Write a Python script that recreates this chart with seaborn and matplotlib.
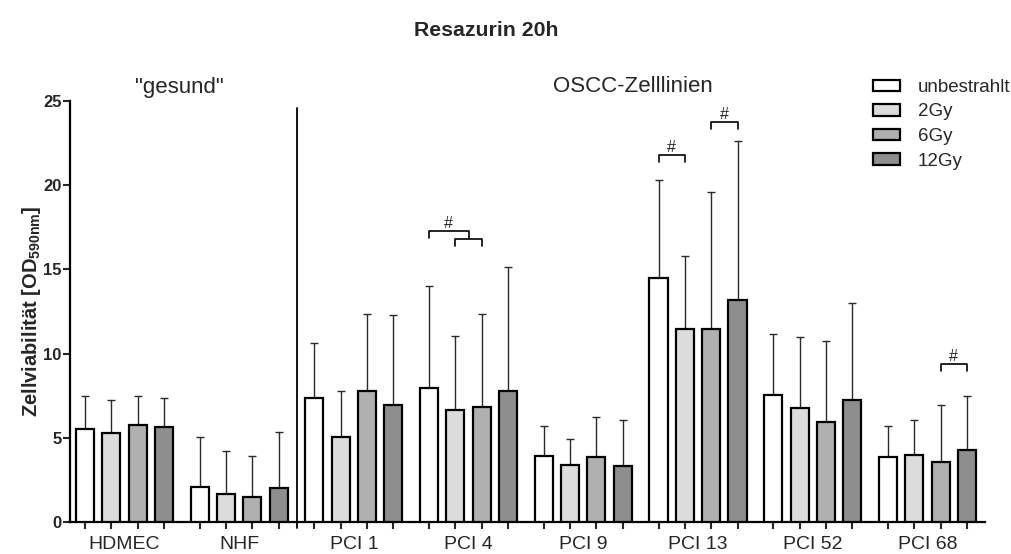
import numpy as np
import pandas as pd
import matplotlib
matplotlib.use("Agg")
import matplotlib.pyplot as plt
import seaborn as sns
from matplotlib.patches import Patch

groups = ["HDMEC", "NHF", "PCI 1", "PCI 4", "PCI 9", "PCI 13", "PCI 52", "PCI 68"]
doses = ["unbestrahlt", "2Gy", "6Gy", "12Gy"]
means_unbestrahlt = [5.52, 2.08, 7.34, 7.98, 3.90, 14.49, 7.52, 3.88]
means_2gy = [5.30, 1.66, 5.07, 6.67, 3.40, 11.48, 6.79, 3.96]
means_6gy = [5.76, 1.48, 7.80, 6.83, 3.84, 11.44, 5.96, 3.56]
means_12gy = [5.64, 2.04, 6.97, 7.80, 3.33, 13.18, 7.26, 4.26]
top_unbestrahlt = [7.48, 5.07, 10.65, 14.01, 5.70, 20.31, 11.18, 5.72]
top_2gy = [7.24, 4.22, 7.80, 11.03, 4.91, 15.80, 10.96, 6.04]
top_6gy = [7.50, 3.94, 12.33, 12.37, 6.25, 19.61, 10.77, 6.95]
top_12gy = [7.38, 5.33, 12.31, 15.14, 6.04, 22.62, 13.02, 7.46]
colors = ["#ffffff", "#dcdcdc", "#b0b0b0", "#8e8e8e"]
yticks = [0, 5, 10, 15, 20, 25]

means = [means_unbestrahlt, means_2gy, means_6gy, means_12gy]
tops = [top_unbestrahlt, top_2gy, top_6gy, top_12gy]

rows = []
for di, d in enumerate(doses):
    for gi, g in enumerate(groups):
        rows.append({"group": g, "dose": d, "val": means[di][gi], "top": tops[di][gi]})
df = pd.DataFrame(rows)

sns.set_style("white")
plt.rcParams["font.family"] = ["Liberation Sans", "DejaVu Sans"]
plt.rcParams["mathtext.fontset"] = "custom"
plt.rcParams["mathtext.bf"] = "Liberation Sans:bold"
plt.rcParams["mathtext.rm"] = "Liberation Sans"

fig = plt.figure(figsize=(10.12, 5.54), dpi=100)
ax = fig.add_axes([70/1012, 32/554, 915/1012, 421/554])

W = 0.9185
sns.barplot(data=df, x="group", y="val", hue="dose", order=groups, hue_order=doses,
            palette=colors, width=W, gap=0.315, edgecolor="black", linewidth=1.6,
            errorbar=None, legend=False, ax=ax, zorder=3)

step = W / 4
def xpos(gi, di):
    return gi + (di - 1.5) * step

for di in range(4):
    xs = [xpos(gi, di) for gi in range(len(groups))]
    m = np.array(means[di]); t = np.array(tops[di])
    ax.errorbar(xs, m, yerr=[np.zeros_like(m), t - m], fmt="none", ecolor="#2a2a2a",
                elinewidth=1.0, capsize=3, capthick=1.0, zorder=2)

ax.set_xlim(-0.475, 7.502)
ax.set_ylim(0, 25)
ax.set_yticks(yticks)
ax.set_yticklabels([str(v) for v in yticks], fontweight="bold", fontsize=12)
ax.tick_params(axis="y", direction="out", length=5, width=1.5, left=True, pad=1)

barx = [xpos(gi, di) for gi in range(len(groups)) for di in range(4)]
ax.set_xticks(barx)
ax.set_xticklabels([""] * len(barx))
ax.set_xticks(range(len(groups)), minor=True)
ax.set_xticklabels(groups, minor=True, fontsize=14)
ax.tick_params(axis="x", which="major", direction="out", length=5, width=1.5, bottom=True)
ax.tick_params(axis="x", which="minor", length=0, pad=10)
ax.set_xlabel("")
ax.set_ylabel(r"Zellviabilität [OD$_{\mathbf{590nm}}$]", fontweight="bold", fontsize=14.5, labelpad=0)

for s in ["top", "right"]:
    ax.spines[s].set_visible(False)
for s in ["left", "bottom"]:
    ax.spines[s].set_linewidth(1.6)
    ax.spines[s].set_color("black")

# divider
ax.plot([1.5, 1.5], [-0.35, 24.6], color="black", lw=1.3, clip_on=False, zorder=4)

# significance brackets
def bracket(x1, x2, y, leg=0.42, lw=1.2):
    ax.plot([x1, x1, x2, x2], [y - leg, y, y, y - leg], color="black", lw=lw, zorder=4, clip_on=False)

def hash_mark(x, y):
    ax.text(x, y, "#", ha="center", va="bottom", fontsize=11.5, zorder=4)

# PCI 4
b1 = xpos(3, 0); b2 = (xpos(3, 1) + xpos(3, 2)) / 2
bracket(xpos(3, 1), xpos(3, 2), 16.79)
bracket(b1, b2, 17.3)
hash_mark((b1 + b2) / 2, 17.3)
# PCI 13
bracket(xpos(5, 0), xpos(5, 1), 21.8)
hash_mark((xpos(5, 0) + xpos(5, 1)) / 2, 21.8)
bracket(xpos(5, 2), xpos(5, 3), 23.73)
hash_mark((xpos(5, 2) + xpos(5, 3)) / 2, 23.73)
# PCI 68
bracket(xpos(7, 2), xpos(7, 3), 9.36)
hash_mark((xpos(7, 2) + xpos(7, 3)) / 2, 9.36)

# group headers
fig.text(179/1012, 1 - 87/554, '"gesund"', ha="center", va="center", fontsize=16)
fig.text(633/1012, 1 - 87/554, "OSCC-Zelllinien", ha="center", va="center", fontsize=16)
fig.text(486/1012, 1 - 30/554, "Resazurin 20h", ha="center", va="center", fontsize=15.3, fontweight="bold")

handles = [Patch(facecolor=c, edgecolor="black", linewidth=1.6, label=d) for c, d in zip(colors, doses)]
fig.legend(handles=handles, loc="upper left", bbox_to_anchor=(873/1012, 1 - 79/554), frameon=False,
           fontsize=13.5, handlelength=1.45, handleheight=0.55, labelspacing=0.4, handletextpad=0.95,
           borderpad=0, borderaxespad=0)

fig.savefig("out.png", dpi=100)
